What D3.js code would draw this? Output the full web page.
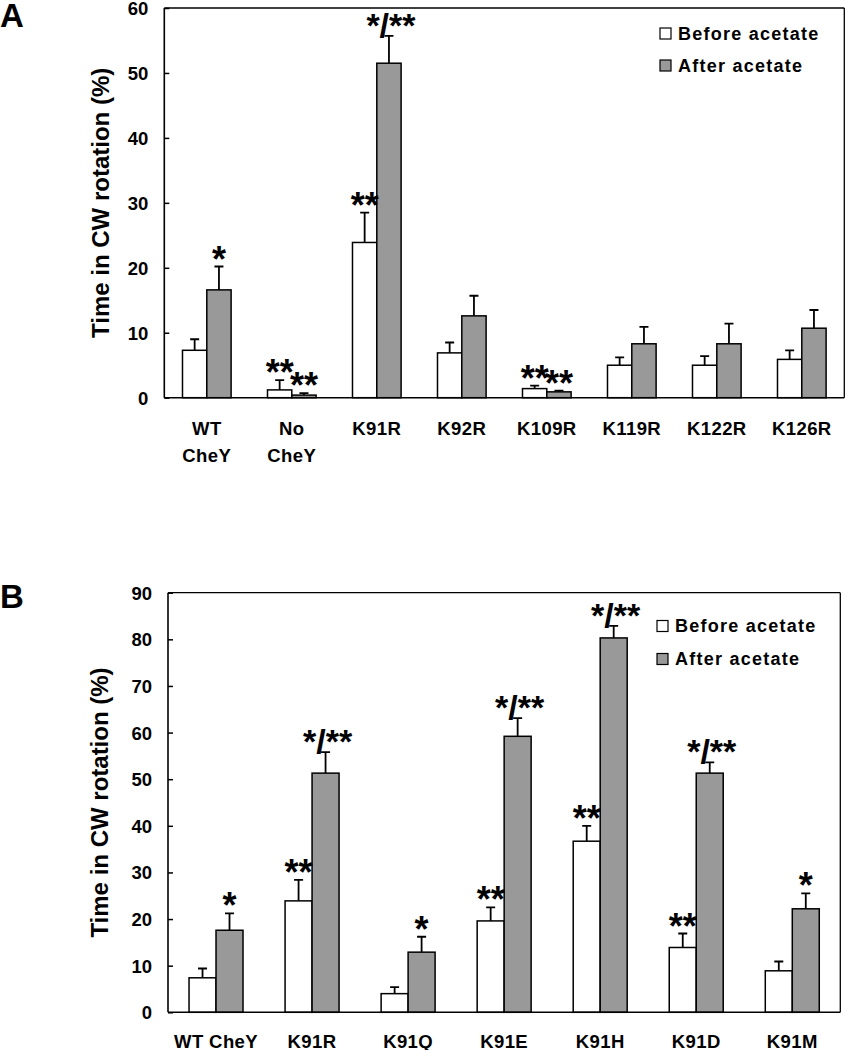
<!DOCTYPE html>
<html><head><meta charset="utf-8">
<script src="https://cdn.jsdelivr.net/npm/d3@7"></script>
<style>
body{margin:0;background:#fff;}
svg text{font-family:"Liberation Sans",Arial,sans-serif;font-weight:bold;fill:#000;}
</style></head>
<body><svg id="c" width="845" height="1050"></svg>
<script>
// ---------- Panel A data ----------
const catsA = ["WT|CheY","No|CheY","K91R","K92R","K109R","K119R","K122R","K126R"];
const beforeA = [7.3, 1.2, 23.9, 6.9, 1.4, 5.0, 5.0, 5.9];
const beforeErrA = [1.7, 1.5, 4.6, 1.6, 0.45, 1.2, 1.4, 1.4];
const afterA = [16.6, 0.4, 51.5, 12.6, 0.9, 8.3, 8.3, 10.7];
const afterErrA = [3.6, 0.3, 4.2, 3.1, 0.2, 2.6, 3.1, 2.8];
const sigBeforeA = ["", "**", "**", "", "**", "", "", ""];
const sigAfterA = ["*", "**", "*/**", "", "**", "", "", ""];
const ticksA = [0, 10, 20, 30, 40, 50, 60];

// ---------- Panel B data ----------
const catsB = ["WT CheY","K91R","K91Q","K91E","K91H","K91D","K91M"];
const beforeB = [7.4, 23.9, 4.0, 19.6, 36.7, 13.9, 8.9];
const beforeErrB = [2.0, 4.5, 1.4, 2.9, 3.3, 3.0, 2.0];
const afterB = [17.6, 51.3, 12.9, 59.2, 80.3, 51.3, 22.2];
const afterErrB = [3.6, 4.5, 3.3, 3.9, 2.6, 2.3, 3.3];
const sigBeforeB = ["", "**", "", "**", "**", "**", ""];
const sigAfterB = ["*", "*/**", "*", "*/**", "*/**", "*/**", "*"];
const ticksB = [0, 10, 20, 30, 40, 50, 60, 70, 80, 90];

const seriesNames = ["Before acetate", "After acetate"];
const seriesColors = ["#ffffff", "#999999"];

const svg = d3.select("#c");

function panel(cfg) {
  const g = svg.append("g");
  const x = d3.scaleBand().domain(cfg.cats).range([cfg.x0, cfg.x1])
    .paddingInner(cfg.pad).paddingOuter(cfg.pad / 2);
  const sub = d3.scaleBand().domain([0, 1]).range([0, x.bandwidth()]);
  const y = d3.scaleLinear().domain([0, cfg.max]).range([cfg.y0, cfg.y1]);

  // frame top & right
  g.append("line").attr("x1", cfg.x0).attr("x2", cfg.x1).attr("y1", cfg.y1).attr("y2", cfg.y1)
    .attr("stroke", "#000").attr("stroke-width", 1.3);
  g.append("line").attr("x1", cfg.x1).attr("x2", cfg.x1).attr("y1", cfg.y1).attr("y2", cfg.y0)
    .attr("stroke", "#000").attr("stroke-width", 1.3);

  const data = cfg.cats.map((c, i) => ({
    c, i,
    vals: [
      {s: 0, v: cfg.before[i], e: cfg.beforeErr[i], sig: cfg.sigBefore[i]},
      {s: 1, v: cfg.after[i], e: cfg.afterErr[i], sig: cfg.sigAfter[i]}
    ]
  }));

  const grp = g.selectAll("g.grp").data(data).join("g").attr("class", "grp")
    .attr("transform", d => `translate(${x(d.c)},0)`);

  grp.selectAll("path.err").data(d => d.vals).join("path").attr("class", "err")
    .attr("d", d => {
      const cx = sub(d.s) + sub.bandwidth() / 2;
      const yt = y(d.v + d.e);
      return `M${cx},${y(d.v)}V${yt}M${cx - 4.5},${yt}H${cx + 4.5}`;
    })
    .attr("stroke", "#000").attr("stroke-width", 1.8).attr("fill", "none");

  grp.selectAll("rect").data(d => d.vals).join("rect")
    .attr("x", d => sub(d.s)).attr("width", sub.bandwidth())
    .attr("y", d => y(d.v)).attr("height", d => cfg.y0 - y(d.v))
    .attr("fill", d => seriesColors[d.s]).attr("stroke", "#000").attr("stroke-width", 1.5);

  grp.selectAll("text.sig").data(d => d.vals.filter(v => v.sig)).join("text")
    .attr("class", "sig")
    .attr("x", d => sub(d.s) + sub.bandwidth() / 2 + (d.sig.includes("/") ? 2 : 0))
    .attr("y", d => y(d.v + d.e) + (d.sig.includes("/") ? 1 : 5))
    .attr("text-anchor", "middle")
    .style("font-size", d => d.sig.includes("/") ? "34px" : "36px")
    .text(d => d.sig);

  // y axis
  const ya = g.append("g").attr("transform", `translate(${cfg.x0},0)`)
    .call(d3.axisRight(y).tickValues(cfg.ticks).tickSize(5).tickFormat(d3.format("d")));
  ya.select(".domain").attr("d", `M0,${cfg.y0}V${cfg.y1}`).attr("stroke-width", 1.6);
  ya.selectAll(".tick line").attr("stroke-width", 1.5);
  ya.selectAll(".tick text").attr("x", -16).attr("text-anchor", "end")
    .attr("dy", "0.35em").style("font-size", "18.5px").style("font-family", '"Liberation Sans",Arial,sans-serif');

  // x axis baseline + category labels
  const xa = g.append("g").attr("transform", `translate(0,${cfg.y0})`)
    .call(d3.axisBottom(x).tickSize(0).tickFormat(""));
  xa.select(".domain").attr("d", `M${cfg.x0},0H${cfg.x1}`).attr("stroke-width", 1.6);
  xa.selectAll(".tick").each(function(c) {
    const t = d3.select(this).append("text").attr("text-anchor", "middle")
      .style("font-size", "18.5px").style("letter-spacing", "0.4px")
      .style("font-family", '"Liberation Sans",Arial,sans-serif')
      .attr("fill", "#000");
    c.split("|").forEach((ln, k) => {
      t.append("tspan").attr("x", 0).attr("y", cfg.labelDy + k * 27).text(ln);
    });
  });

  // y title
  g.append("text")
    .attr("transform", `translate(${cfg.titleX},${(cfg.y0 + cfg.y1) / 2}) rotate(-90)`)
    .attr("text-anchor", "middle").style("font-size", "24px")
    .text("Time in CW rotation (%)");

  // panel letter
  g.append("text").attr("x", 0).attr("y", cfg.letterY).style("font-size", "33px").text(cfg.letter);

  // legend
  const lg = g.append("g");
  seriesNames.forEach((n, k) => {
    const ly = cfg.legY + k * cfg.legStep;
    lg.append("rect").attr("x", cfg.legX).attr("y", ly - 5.5).attr("width", 11).attr("height", 11)
      .attr("fill", seriesColors[k]).attr("stroke", "#000").attr("stroke-width", 1.2);
    lg.append("text").attr("x", cfg.legX + 18).attr("y", ly).attr("dy", "0.35em")
      .style("font-size", "18px").style("letter-spacing", "1.25px").text(n);
  });
}

panel({cats: catsA, before: beforeA, beforeErr: beforeErrA, after: afterA, afterErr: afterErrA,
  sigBefore: sigBeforeA, sigAfter: sigAfterA, ticks: ticksA, max: 60,
  x0: 164.3, x1: 844.3, y0: 397.7, y1: 8, pad: 0.428,
  labelDy: 37, titleX: 109, letter: "A", letterY: 27,
  legX: 660, legY: 33.5, legStep: 32});

panel({cats: catsB, before: beforeB, beforeErr: beforeErrB, after: afterB, afterErr: afterErrB,
  sigBefore: sigBeforeB, sigAfter: sigAfterB, ticks: ticksB, max: 90,
  x0: 168, x1: 840.3, y0: 1012.3, y1: 592.7, pad: 0.438,
  labelDy: 35.5, titleX: 108, letter: "B", letterY: 608,
  legX: 657, legY: 626, legStep: 33});
</script></body></html>
